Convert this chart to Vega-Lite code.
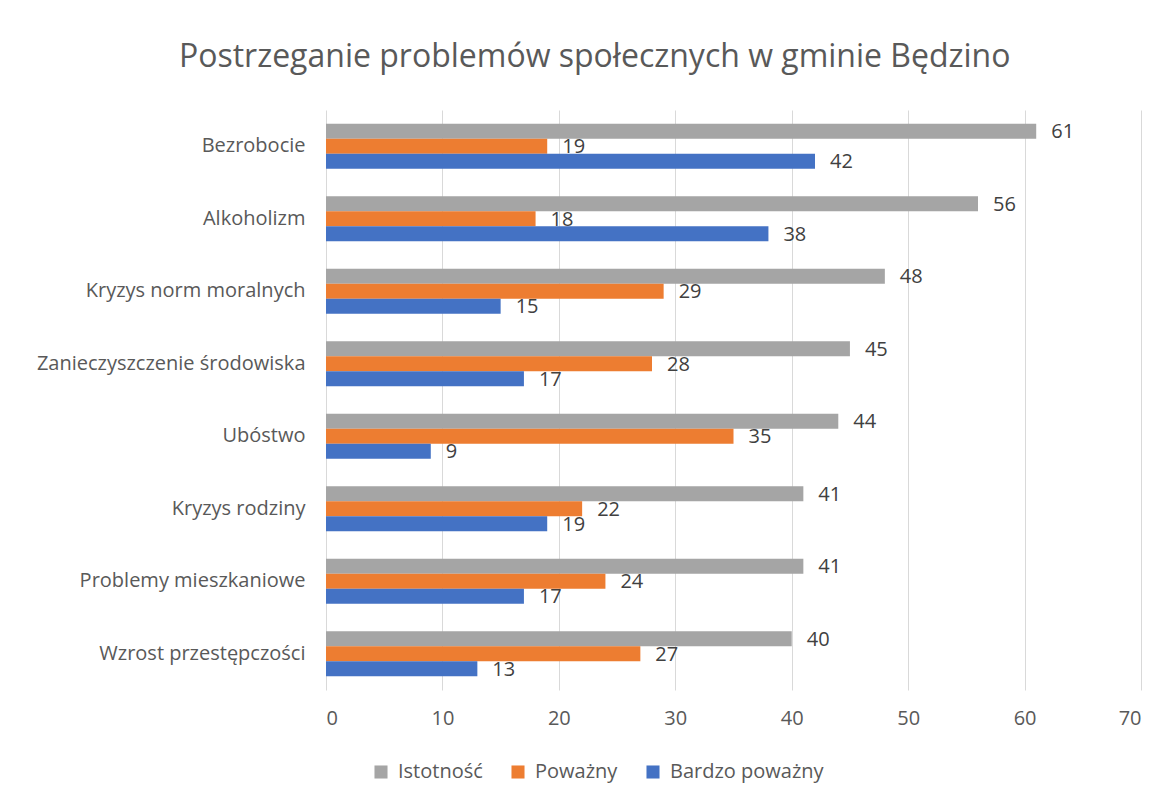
{
  "$schema": "https://vega.github.io/schema/vega-lite/v6.json",
  "width": 815,
  "height": 580,
  "autosize": {"type": "none"},
  "padding": {"left": 326, "top": 110, "right": 27, "bottom": 115},
  "background": "white",
  "title": {
    "text": "Postrzeganie problemów społecznych w gminie Będzino",
    "font": "Open Sans",
    "fontSize": 32,
    "fontWeight": "normal",
    "color": "#595959",
    "anchor": "middle",
    "frame": "bounds",
    "offset": 36,
    "dx": 6
  },
  "data": {
    "values": [
      {"problem": "Bezrobocie", "seria": "Istotność", "v": 61},
      {"problem": "Bezrobocie", "seria": "Poważny", "v": 19},
      {"problem": "Bezrobocie", "seria": "Bardzo poważny", "v": 42},
      {"problem": "Alkoholizm", "seria": "Istotność", "v": 56},
      {"problem": "Alkoholizm", "seria": "Poważny", "v": 18},
      {"problem": "Alkoholizm", "seria": "Bardzo poważny", "v": 38},
      {"problem": "Kryzys norm moralnych", "seria": "Istotność", "v": 48},
      {"problem": "Kryzys norm moralnych", "seria": "Poważny", "v": 29},
      {"problem": "Kryzys norm moralnych", "seria": "Bardzo poważny", "v": 15},
      {"problem": "Zanieczyszczenie środowiska", "seria": "Istotność", "v": 45},
      {"problem": "Zanieczyszczenie środowiska", "seria": "Poważny", "v": 28},
      {"problem": "Zanieczyszczenie środowiska", "seria": "Bardzo poważny", "v": 17},
      {"problem": "Ubóstwo", "seria": "Istotność", "v": 44},
      {"problem": "Ubóstwo", "seria": "Poważny", "v": 35},
      {"problem": "Ubóstwo", "seria": "Bardzo poważny", "v": 9},
      {"problem": "Kryzys rodziny", "seria": "Istotność", "v": 41},
      {"problem": "Kryzys rodziny", "seria": "Poważny", "v": 22},
      {"problem": "Kryzys rodziny", "seria": "Bardzo poważny", "v": 19},
      {"problem": "Problemy mieszkaniowe", "seria": "Istotność", "v": 41},
      {"problem": "Problemy mieszkaniowe", "seria": "Poważny", "v": 24},
      {"problem": "Problemy mieszkaniowe", "seria": "Bardzo poważny", "v": 17},
      {"problem": "Wzrost przestępczości", "seria": "Istotność", "v": 40},
      {"problem": "Wzrost przestępczości", "seria": "Poważny", "v": 27},
      {"problem": "Wzrost przestępczości", "seria": "Bardzo poważny", "v": 13}
    ]
  },
  "encoding": {
    "y": {
      "field": "problem",
      "type": "nominal",
      "sort": null,
      "scale": {"paddingInner": 0.38, "paddingOuter": 0.19},
      "axis": {
        "title": null,
        "domain": false,
        "ticks": false,
        "grid": false,
        "labelPadding": 21,
        "labelLimit": 400,
        "labelFont": "Open Sans",
        "labelFontSize": 20,
        "labelColor": "#595959"
      }
    },
    "yOffset": {
      "field": "seria",
      "type": "nominal",
      "sort": ["Istotność", "Poważny", "Bardzo poważny"],
      "scale": {"paddingInner": 0, "paddingOuter": 0}
    },
    "x": {
      "field": "v",
      "type": "quantitative",
      "scale": {"domain": [0, 70], "nice": false},
      "axis": {
        "title": null,
        "values": [0, 10, 20, 30, 40, 50, 60, 70],
        "domain": false,
        "ticks": false,
        "grid": true,
        "gridColor": "#d9d9d9",
        "gridWidth": 1,
        "labelPadding": 18,
        "labelFont": "Open Sans",
        "labelFontSize": 20,
        "labelColor": "#595959"
      }
    }
  },
  "layer": [
    {
      "mark": {"type": "bar"},
      "encoding": {
        "color": {
          "field": "seria",
          "type": "nominal",
          "sort": ["Istotność", "Poważny", "Bardzo poważny"],
          "scale": {
            "domain": ["Istotność", "Poważny", "Bardzo poważny"],
            "range": ["#A5A5A5", "#ED7D31", "#4472C4"]
          },
          "legend": {
            "title": null,
            "orient": "none",
            "direction": "horizontal",
            "legendX": 45,
            "legendY": 652,
            "symbolType": "square",
            "symbolSize": 170,
            "symbolStrokeWidth": 0,
            "symbolOpacity": 1,
            "labelFont": "Open Sans",
            "labelFontSize": 20,
            "labelColor": "#595959",
            "labelOffset": 7,
            "columnPadding": 25
          }
        }
      }
    },
    {
      "mark": {
        "type": "text",
        "align": "left",
        "baseline": "middle",
        "dx": 15,
        "dy": 1,
        "font": "Open Sans",
        "fontSize": 20,
        "color": "#404040"
      },
      "encoding": {
        "text": {"field": "v", "type": "quantitative"}
      }
    }
  ],
  "config": {
    "view": {"stroke": null}
  }
}
